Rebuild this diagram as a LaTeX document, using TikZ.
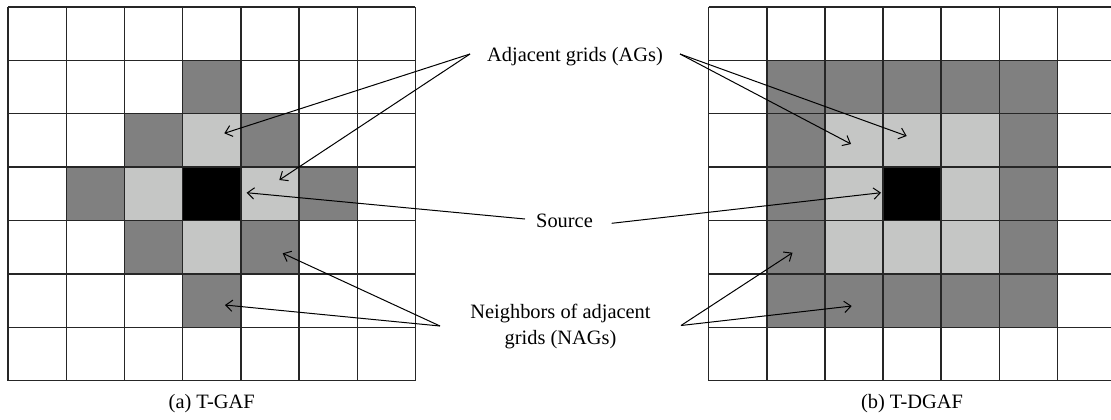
\documentclass[tikz,border=0pt]{standalone}
\usepackage{fontspec}
\setmainfont{Liberation Serif}
\usetikzlibrary{arrows.meta}
\definecolor{nagfill}{HTML}{808080}
\definecolor{agfill}{HTML}{C5C6C5}
\begin{document}
\begin{tikzpicture}[x=0.75pt,y=-0.75pt,
  gridline/.style={line width=1.05pt, draw=black!85},
  pointer/.style={line width=0.75pt, draw=black,
    -{Straight Barb[length=5pt,width=8.5pt,line width=0.75pt]}},
  lbl/.style={font=\fontsize{15.3}{19.5}\selectfont, inner sep=0pt, anchor=base},
  cellA/.style={fill=agfill},
  cellN/.style={fill=nagfill},
  cellS/.style={fill=black}]
\useasboundingbox (0,0) rectangle (1111,419);
\clip (0,0) rectangle (1111,419);

% (a) T-GAF: cross-shaped neighbourhood
\begin{scope}[shift={(8,6.8)}, x=43.65pt, y=-40.05pt]
  \foreach \c/\r in {3/2,2/3,4/3,3/4}
    \fill[cellA] (\c,\r) rectangle ++(1,1);
  \foreach \c/\r in {3/1,2/2,4/2,1/3,5/3,2/4,4/4,3/5}
    \fill[cellN] (\c,\r) rectangle ++(1,1);
  \fill[cellS] (3,3) rectangle ++(1,1);
  \foreach \k in {0,...,7} {
    \draw[gridline] (\k,0) -- (\k,7);
    \draw[gridline] (0,\k) -- (7,\k);
  }
\end{scope}

% (b) T-DGAF: square neighbourhood
\begin{scope}[shift={(708.7,6.8)}, x=43.575pt, y=-40.05pt]
  \fill[cellN] (1,1) rectangle (6,6);
  \fill[cellA] (2,2) rectangle (5,5);
  \fill[cellS] (3,3) rectangle ++(1,1);
  \foreach \k in {0,...,7} {
    \draw[gridline] (\k,0) -- (\k,7);
    \draw[gridline] (0,\k) -- (7,\k);
  }
\end{scope}

% labels
\node[lbl] (agl)  at (575,61.5)  {Adjacent grids (AGs)};
\node[lbl] (src)  at (564.5,227.3) {Source};
\node[lbl] (nag1) at (560.5,318.5) {Neighbors of adjacent};
\node[lbl] (nag2) at (560.5,344.5) {grids (NAGs)};
\node[lbl] (capa) at (211.7,408.5) {(a) T-GAF};
\node[lbl] (capb) at (912,408.5)   {(b) T-DGAF};

% connector ends
\coordinate (agL)  at (470,54);
\coordinate (agR)  at (680,54);
\coordinate (srcL) at (525,219);
\coordinate (srcR) at (611.7,223.3);
\coordinate (nagL) at (440,326);
\coordinate (nagR) at (681,325.5);

\coordinate (tAG1a) at (224.3,133.3);
\coordinate (tAG2a) at (279.3,180);
\coordinate (tSa)   at (246.7,192.7);
\coordinate (tN1a)  at (282.7,253.3);
\coordinate (tN2a)  at (225,305);

\coordinate (tAG1b) at (851,144);
\coordinate (tAG2b) at (906.7,136);
\coordinate (tSb)   at (881,192.7);
\coordinate (tN1b)  at (792.5,252.7);
\coordinate (tN2b)  at (851.7,306);

% pointers
\draw[pointer] (agL) -- (tAG1a);
\draw[pointer] (agL) -- (tAG2a);
\draw[pointer] (agR) -- (tAG1b);
\draw[pointer] (agR) -- (tAG2b);
\draw[pointer] (srcL) -- (tSa);
\draw[pointer] (srcR) -- (tSb);
\draw[pointer] (nagL) -- (tN1a);
\draw[pointer] (nagL) -- (tN2a);
\draw[pointer] (nagR) -- (tN1b);
\draw[pointer] (nagR) -- (tN2b);
\end{tikzpicture}
\end{document}
